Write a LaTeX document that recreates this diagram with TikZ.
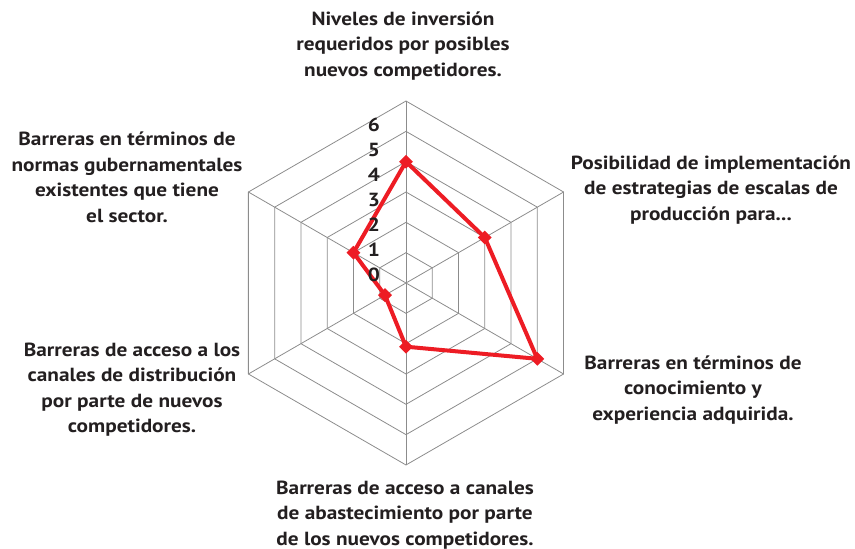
\documentclass[tikz,border=0pt]{standalone}
\usepackage{fontspec}
\setmainfont[FakeStretch=1.12]{PT Sans}
\usetikzlibrary{shapes.geometric}
\definecolor{txtblack}{HTML}{231F20}
\definecolor{chartred}{HTML}{ED1C24}
\newcommand{\ringstep}{30.33pt}
\tikzset{
    gridline/.style={draw=black!45, line width=0.8pt},
    dataline/.style={draw=chartred, line width=4pt, line join=round},
    marker/.style={diamond, fill=chartred, minimum size=14pt, inner sep=0},
    axislabel/.style={font=\bfseries\fontsize{19}{25.5}\selectfont, text=txtblack, align=center, inner sep=0},
    ticklabel/.style={font=\bfseries\fontsize{19}{22}\selectfont, text=txtblack, inner sep=0}
}

\begin{document}
\begin{tikzpicture}[x=1pt,y=1pt]
    \useasboundingbox (-406,-266) rectangle (449,283);
    % rings and spokes
    \foreach \k in {1,...,6}
        \draw[gridline] (90:\k*\ringstep) -- (30:\k*\ringstep) -- (-30:\k*\ringstep)
            -- (-90:\k*\ringstep) -- (-150:\k*\ringstep) -- (150:\k*\ringstep) -- cycle;
    \foreach \a in {90,30,-30,-90,-150,150}
        \draw[gridline] (0,0) -- (\a:6*\ringstep);
    % data
    \coordinate (p1) at (90:4*\ringstep);
    \coordinate (p2) at (30:3*\ringstep);
    \coordinate (p3) at (-30:5*\ringstep);
    \coordinate (p4) at (-90:2.1*\ringstep);
    \coordinate (p5) at (-150:0.8*\ringstep);
    \coordinate (p6) at (150:2*\ringstep);
    \draw[dataline] (p1) -- (p2) -- (p3) -- (p4) -- (p5) -- (p6) -- cycle;
    \foreach \i in {1,...,6}
        \node[marker] (m\i) at (p\i) {};
    % scale
    \foreach \v in {0,...,6}
        \node[ticklabel] (n\v) at (-32,8+25*\v) {\v};
    % axis names
    \node[axislabel] (top) at (-3,237) {Niveles de inversión\\requeridos por posibles\\nuevos competidores.};
    \node[axislabel] (upright) at (305,93) {Posibilidad de implementación\\de estrategias de escalas de\\producción para...};
    \node[axislabel] (lowright) at (287,-107) {Barreras en términos de\\conocimiento y\\experiencia adquirida.};
    \node[axislabel] (bottom) at (-1,-232) {Barreras de acceso a canales\\de abastecimiento por parte\\de los nuevos competidores.};
    \node[axislabel] (lowleft) at (-274,-106.5) {Barreras de acceso a los\\canales de distribución\\por parte de nuevos\\competidores.};
    \node[axislabel] (upleft) at (-279,105.5) {Barreras en términos de\\normas gubernamentales\\existentes que tiene\\el sector.};
\end{tikzpicture}
\end{document}
